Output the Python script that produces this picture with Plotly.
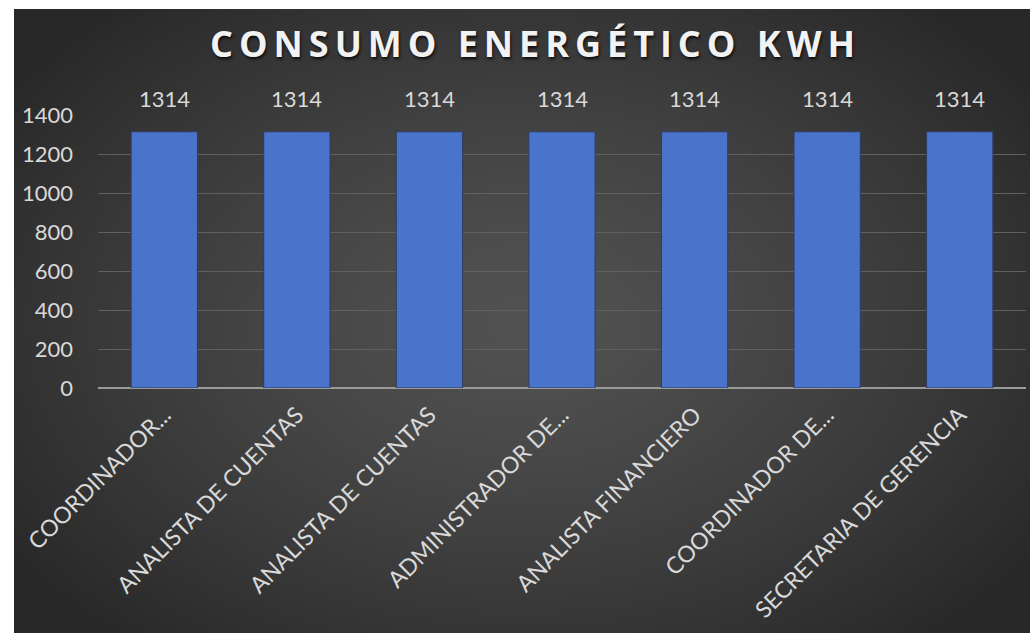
import base64
import struct
import zlib

import numpy as np
import plotly.graph_objects as go

# Chart data
puestos = [
    "COORDINADOR...",
    "ANALISTA DE CUENTAS",
    "ANALISTA DE CUENTAS",
    "ADMINISTRADOR DE...",
    "ANALISTA FINANCIERO",
    "COORDINADOR DE...",
    "SECRETARIA DE GERENCIA",
]
consumo_kwh = [1314, 1314, 1314, 1314, 1314, 1314, 1314]
y_ticks = [0, 200, 400, 600, 800, 1000, 1200, 1400]
titulo = "CONSUMO ENERGÉTICO KWH"

W, H = 1030, 635


def png_data_uri(rgb):
    """Encode an (h, w, 3) uint8 array as a PNG data URI."""
    h, w, _ = rgb.shape
    raw = b"".join(b"\x00" + rgb[i].tobytes() for i in range(h))

    def chunk(tag, data):
        c = struct.pack(">I", len(data)) + tag + data
        return c + struct.pack(">I", zlib.crc32(tag + data) & 0xFFFFFFFF)

    png = b"\x89PNG\r\n\x1a\n"
    png += chunk(b"IHDR", struct.pack(">IIBBBBB", w, h, 8, 2, 0, 0, 0))
    png += chunk(b"IDAT", zlib.compress(raw, 9))
    png += chunk(b"IEND", b"")
    return "data:image/png;base64," + base64.b64encode(png).decode()


def espaciado(texto):
    """Spread the letters of the title with thin spaces."""
    palabras = texto.split(" ")
    return "\u2009\u2009 ".join("\u2009".join(p) for p in palabras)


# Radial dark-gray backdrop (lighter in the middle, darker towards the corners)
bw, bh = 508, 312
yy, xx = np.mgrid[0:bh, 0:bw]
cx, cy = bw * 0.5, bh * 0.5
r = np.sqrt(((xx - cx) / (bw * 0.62)) ** 2 + ((yy - cy) / (bh * 0.68)) ** 2)
r = np.clip(r, 0, 1)
shade = 82 - (82 - 40) * r ** 1.3
bg = np.repeat(shade[:, :, None], 3, axis=2).astype(np.uint8)
bg_uri = png_data_uri(bg)

x_idx = list(range(len(puestos)))

fig = go.Figure()
fig.add_trace(
    go.Bar(
        x=x_idx,
        y=consumo_kwh,
        width=0.5,
        marker=dict(color="#4a74cc", line=dict(color="#2e3d5c", width=1)),
        hoverinfo="skip",
    )
)

# Value labels above each bar
for xi, v in zip(x_idx, consumo_kwh):
    fig.add_annotation(
        x=xi,
        y=v,
        text=str(v),
        showarrow=False,
        yanchor="bottom",
        yshift=18,
        font=dict(family="Lato", size=22, color="#d9d9d9"),
    )

# Plot area placement (pixels -> paper fractions)
px_left, px_right = 98, 1026
px_top, px_bottom = 115, 388

fig.update_layout(
    width=W,
    height=H,
    margin=dict(l=0, r=0, t=0, b=0, autoexpand=False),
    paper_bgcolor="white",
    plot_bgcolor="rgba(0,0,0,0)",
    showlegend=False,
    images=[
        dict(
            source=bg_uri,
            xref="paper",
            yref="paper",
            x=14 / W,
            y=1 - 9 / H,
            sizex=1 - 14 / W,
            sizey=(633 - 9) / H,
            xanchor="left",
            yanchor="top",
            sizing="stretch",
            layer="below",
        )
    ],
    title=dict(
        text=espaciado(titulo),
        x=0.517,
        xanchor="center",
        y=1 - 44 / H,
        yanchor="middle",
        automargin=False,
        font=dict(
            family="Open Sans",
            size=36,
            color="#f2f2f2",
            weight="bold",
            shadow="1px 2px 3px rgba(0,0,0,0.8)",
        ),
    ),
    xaxis=dict(
        domain=[px_left / W, px_right / W],
        range=[-0.5, len(puestos) - 0.5],
        tickmode="array",
        tickvals=x_idx,
        ticktext=puestos,
        tickangle=-45,
        tickfont=dict(family="Lato", size=23, color="#d9d9d9"),
        showgrid=False,
        zeroline=False,
        showline=False,
        ticks="",
        ticklabelstandoff=8,
        automargin=False,
        fixedrange=True,
    ),
    yaxis=dict(
        domain=[1 - px_bottom / H, 1 - px_top / H],
        range=[0, 1400],
        tickmode="array",
        tickvals=y_ticks,
        tickfont=dict(family="Lato", size=22, color="#d9d9d9"),
        showgrid=True,
        gridcolor="#606060",
        gridwidth=1,
        zeroline=True,
        zerolinecolor="#9a9a9a",
        zerolinewidth=2,
        showline=False,
        ticks="",
        ticklabelstandoff=24,
        automargin=False,
        fixedrange=True,
    ),
)

fig.write_html("out.html")
